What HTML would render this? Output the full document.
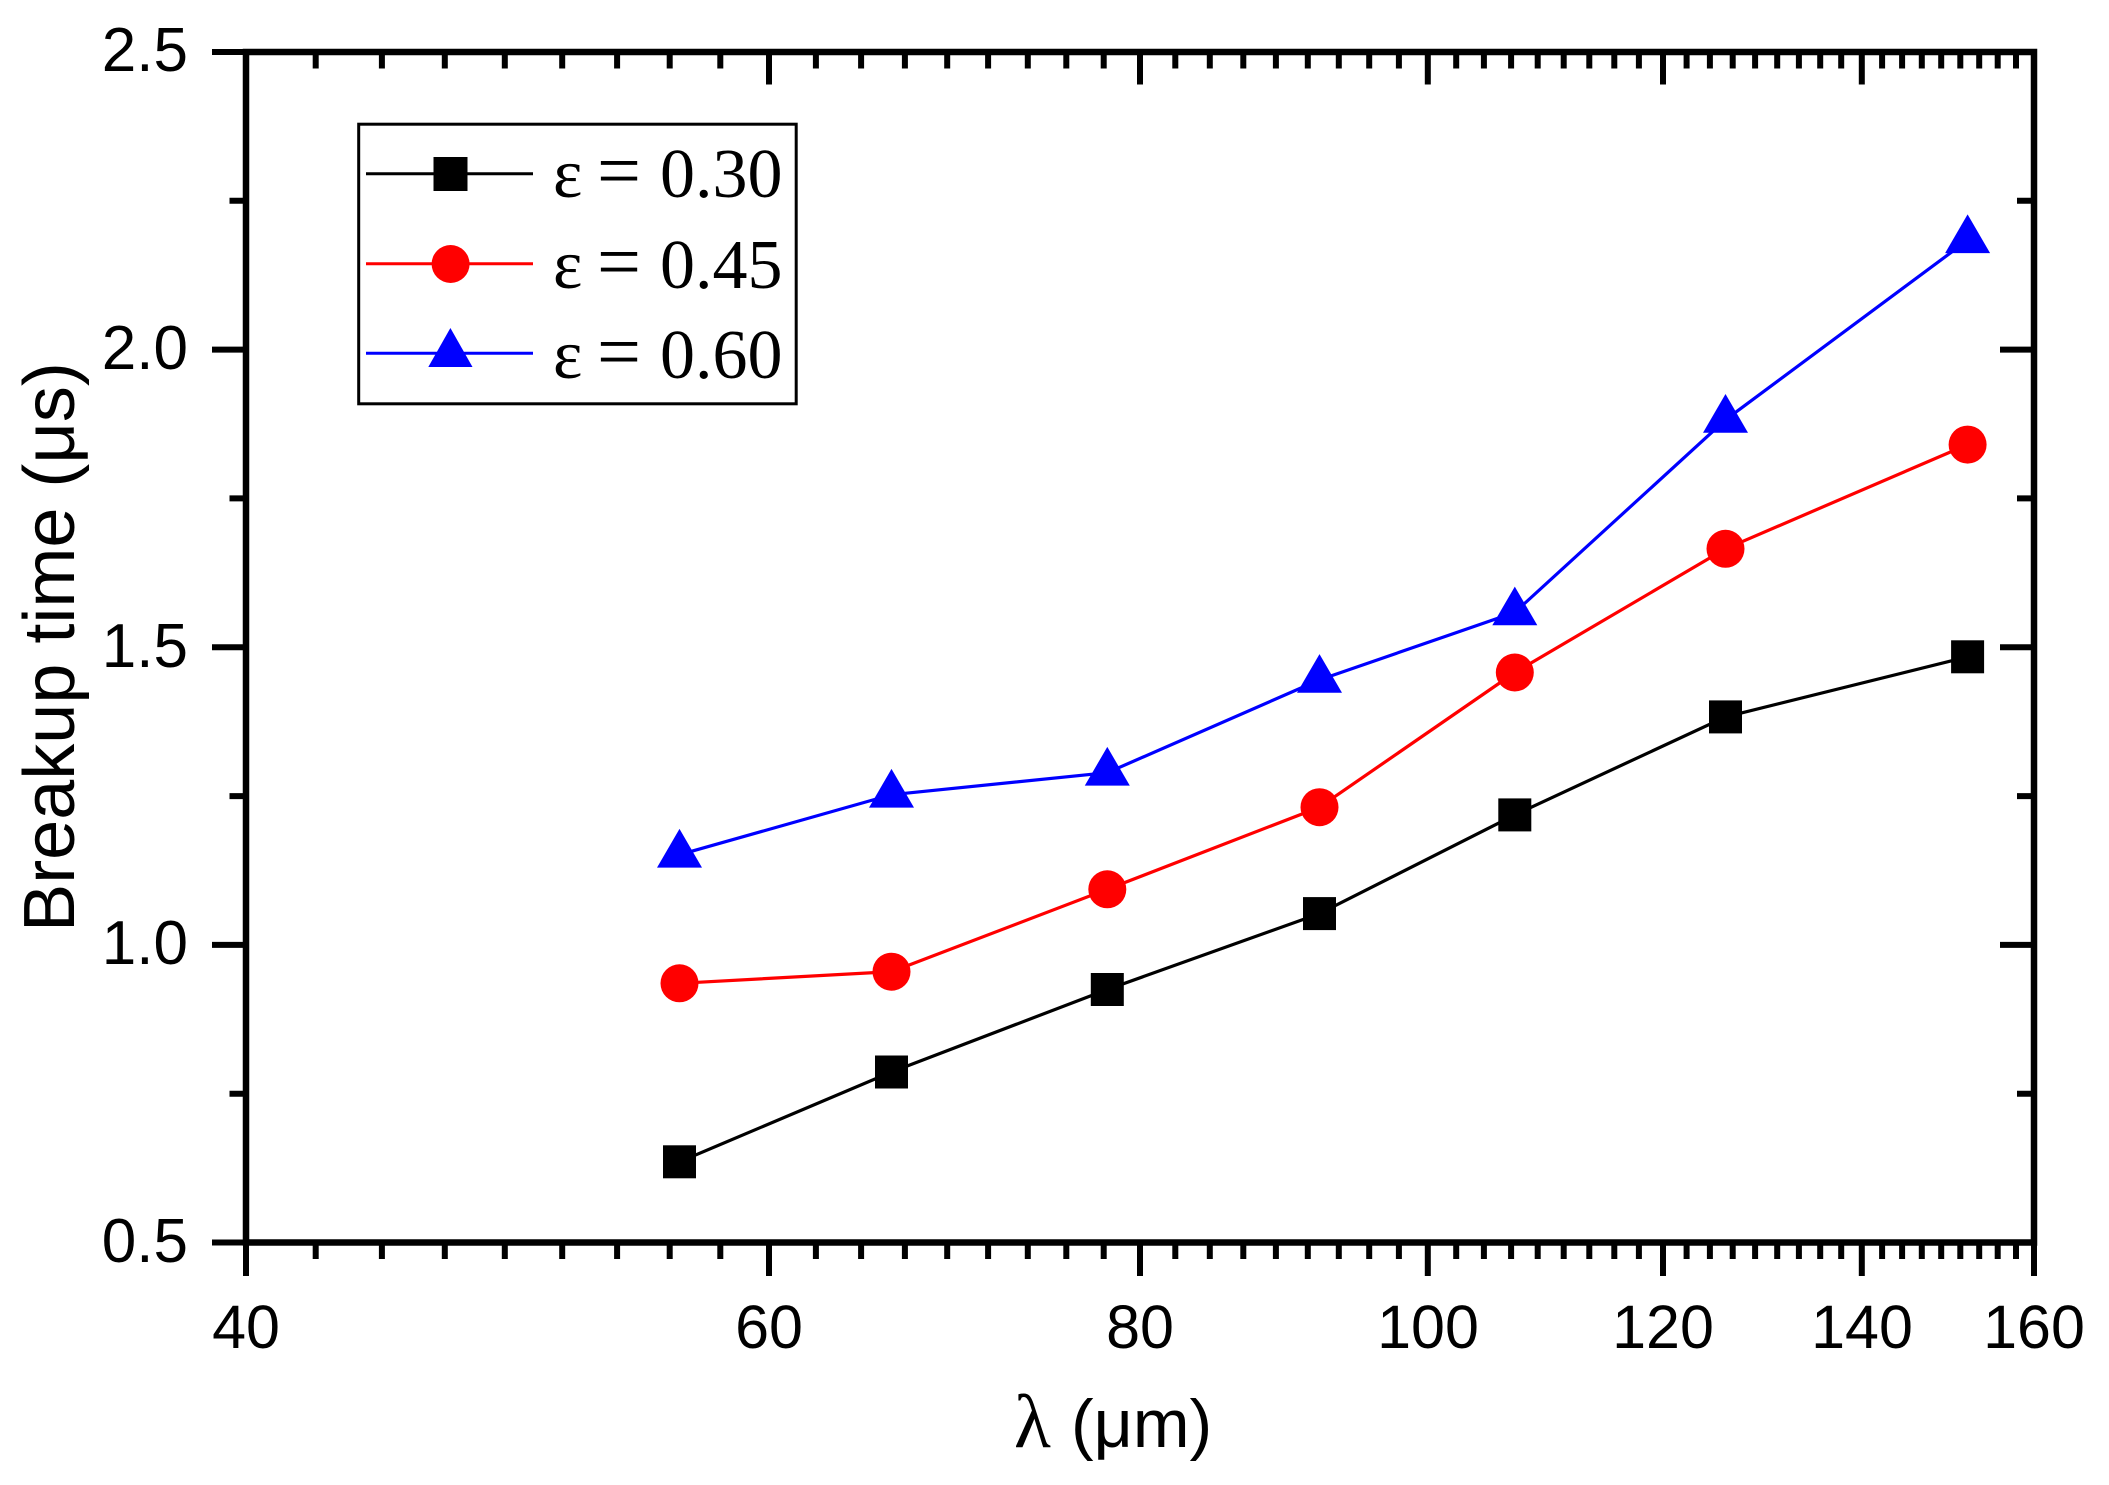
<!DOCTYPE html>
<html>
<head>
<meta charset="utf-8">
<style>
html,body{margin:0;padding:0;background:#fff;}
svg{display:block;}
</style>
</head>
<body>
<svg xmlns="http://www.w3.org/2000/svg" width="2109" height="1485" viewBox="0 0 2109 1485">
<rect x="0" y="0" width="2109" height="1485" fill="#fff"/>

<!-- Frame -->
<rect x="246" y="52" width="1788" height="1190.5" fill="none" stroke="#000" stroke-width="6.5"/>

<!-- Ticks -->
<g stroke="#000" stroke-width="6" fill="none" stroke-linecap="butt">
  <path d="M246 1242.5V1276 M769 1242.5V1276 M1140 1242.5V1276 M1427.8 1242.5V1276 M1663 1242.5V1276 M1861.8 1242.5V1276 M2034 1242.5V1276"/>
  <path d="M315.7 1242.5V1259 M381.9 1242.5V1259 M444.8 1242.5V1259 M504.8 1242.5V1259 M562.2 1242.5V1259 M617.1 1242.5V1259 M669.7 1242.5V1259 M720.3 1242.5V1259
  M815.9 1242.5V1259 M861.1 1242.5V1259 M904.9 1242.5V1259 M947.2 1242.5V1259 M988.1 1242.5V1259 M1027.8 1242.5V1259 M1066.3 1242.5V1259 M1103.7 1242.5V1259
  M1175.3 1242.5V1259 M1209.8 1242.5V1259 M1243.3 1242.5V1259 M1275.9 1242.5V1259 M1307.8 1242.5V1259 M1338.8 1242.5V1259 M1369.2 1242.5V1259 M1398.9 1242.5V1259
  M1456.2 1242.5V1259 M1483.9 1242.5V1259 M1511.1 1242.5V1259 M1537.7 1242.5V1259 M1563.7 1242.5V1259 M1589.3 1242.5V1259 M1614.3 1242.5V1259 M1638.9 1242.5V1259
  M1686.6 1242.5V1259 M1709.9 1242.5V1259 M1732.7 1242.5V1259 M1755.1 1242.5V1259 M1777.2 1242.5V1259 M1798.9 1242.5V1259 M1820.2 1242.5V1259 M1841.2 1242.5V1259
  M1882.1 1242.5V1259 M1902.1 1242.5V1259 M1921.8 1242.5V1259 M1941.2 1242.5V1259 M1960.3 1242.5V1259 M1979.2 1242.5V1259 M1997.7 1242.5V1259 M2016 1242.5V1259"/>
  <path d="M769 52V84.5 M1140 52V84.5 M1427.8 52V84.5 M1663 52V84.5 M1861.8 52V84.5"/>
  <path d="M315.7 52V68.5 M381.9 52V68.5 M444.8 52V68.5 M504.8 52V68.5 M562.2 52V68.5 M617.1 52V68.5 M669.7 52V68.5 M720.3 52V68.5
  M815.9 52V68.5 M861.1 52V68.5 M904.9 52V68.5 M947.2 52V68.5 M988.1 52V68.5 M1027.8 52V68.5 M1066.3 52V68.5 M1103.7 52V68.5
  M1175.3 52V68.5 M1209.8 52V68.5 M1243.3 52V68.5 M1275.9 52V68.5 M1307.8 52V68.5 M1338.8 52V68.5 M1369.2 52V68.5 M1398.9 52V68.5
  M1456.2 52V68.5 M1483.9 52V68.5 M1511.1 52V68.5 M1537.7 52V68.5 M1563.7 52V68.5 M1589.3 52V68.5 M1614.3 52V68.5 M1638.9 52V68.5
  M1686.6 52V68.5 M1709.9 52V68.5 M1732.7 52V68.5 M1755.1 52V68.5 M1777.2 52V68.5 M1798.9 52V68.5 M1820.2 52V68.5 M1841.2 52V68.5
  M1882.1 52V68.5 M1902.1 52V68.5 M1921.8 52V68.5 M1941.2 52V68.5 M1960.3 52V68.5 M1979.2 52V68.5 M1997.7 52V68.5 M2016 52V68.5"/>
  <path d="M212 52H246 M212 349.6H246 M212 647.25H246 M212 944.9H246 M212 1242.5H246"/>
  <path d="M229.5 200.8H246 M229.5 498.4H246 M229.5 796.1H246 M229.5 1093.7H246"/>
  <path d="M2034 349.6H2000 M2034 647.25H2000 M2034 944.9H2000"/>
  <path d="M2034 200.8H2017 M2034 498.4H2017 M2034 796.1H2017 M2034 1093.7H2017"/>
</g>

<!-- Y tick labels -->
<g font-family="'Liberation Sans', Arial, sans-serif" font-size="62" fill="#000" text-anchor="end">
  <text x="188" y="71">2.5</text>
  <text x="188" y="369">2.0</text>
  <text x="188" y="667">1.5</text>
  <text x="188" y="964">1.0</text>
  <text x="188" y="1262">0.5</text>
</g>

<!-- X tick labels -->
<g font-family="'Liberation Sans', Arial, sans-serif" font-size="61" fill="#000" text-anchor="middle">
  <text x="246" y="1348">40</text>
  <text x="769" y="1348">60</text>
  <text x="1140" y="1348">80</text>
  <text x="1428" y="1348">100</text>
  <text x="1663" y="1348">120</text>
  <text x="1862" y="1348">140</text>
  <text x="2034" y="1348">160</text>
</g>

<!-- Axis titles -->
<text transform="translate(74,647) rotate(-90)" text-anchor="middle" font-family="'Liberation Sans', Arial, sans-serif" font-size="72" fill="#000">Breakup time (μs)</text>
<text x="1014" y="1447" font-family="'Liberation Serif', 'Times New Roman', serif" font-size="76" fill="#000">λ</text>
<text x="1071" y="1447" font-family="'Liberation Sans', Arial, sans-serif" font-size="68" fill="#000">(μm)</text>

<!-- Data lines -->
<g fill="none" stroke-width="3.2" stroke-linejoin="round">
  <polyline stroke="#000" points="679.5,1161.8 891.5,1072 1107.3,989.5 1319.5,913.6 1514.8,814.9 1725.5,716.9 1967.6,656.8"/>
  <polyline stroke="#ff0000" points="679.5,983.3 891.5,971.7 1107.3,889.3 1319.5,807.2 1514.8,672.5 1725.5,548.8 1967.6,444.6"/>
  <polyline stroke="#0000ff" points="679.5,854.7 891.5,794.7 1107.3,772.7 1319.5,679.9 1514.8,612.4 1725.5,419.8 1967.6,240.2"/>
</g>

<!-- Black squares -->
<g fill="#000">
  <rect x="663" y="1145.3" width="33" height="33"/>
  <rect x="875" y="1055.5" width="33" height="33"/>
  <rect x="1090.8" y="973" width="33" height="33"/>
  <rect x="1303" y="897.1" width="33" height="33"/>
  <rect x="1498.3" y="798.4" width="33" height="33"/>
  <rect x="1709" y="700.4" width="33" height="33"/>
  <rect x="1951.1" y="640.3" width="33" height="33"/>
</g>

<!-- Red circles -->
<g fill="#ff0000">
  <circle cx="679.5" cy="983.3" r="19"/>
  <circle cx="891.5" cy="971.7" r="19"/>
  <circle cx="1107.3" cy="889.3" r="19"/>
  <circle cx="1319.5" cy="807.2" r="19"/>
  <circle cx="1514.8" cy="672.5" r="19"/>
  <circle cx="1725.5" cy="548.8" r="19"/>
  <circle cx="1967.6" cy="444.6" r="19"/>
</g>

<!-- Blue triangles -->
<g fill="#0000ff">
  <polygon points="679.5,828.9 702,867.6 657,867.6"/>
  <polygon points="891.5,768.9 914,807.6 869,807.6"/>
  <polygon points="1107.3,746.9 1129.8,785.6 1084.8,785.6"/>
  <polygon points="1319.5,654.1 1342,692.8 1297,692.8"/>
  <polygon points="1514.8,586.6 1537.3,625.3 1492.3,625.3"/>
  <polygon points="1725.5,394 1748,432.7 1703,432.7"/>
  <polygon points="1967.6,214.4 1990.1,253.1 1945.1,253.1"/>
</g>

<!-- Legend -->
<rect x="358.7" y="124.2" width="437.5" height="279.6" fill="#fff" stroke="#000" stroke-width="3"/>
<line x1="366" y1="173.7" x2="533" y2="173.7" stroke="#000" stroke-width="3"/>
<rect x="433.5" y="157" width="34" height="34" fill="#000"/>
<line x1="366" y1="263.7" x2="533" y2="263.7" stroke="#ff0000" stroke-width="3"/>
<circle cx="450.6" cy="264" r="19" fill="#ff0000"/>
<line x1="366" y1="353.3" x2="533" y2="353.3" stroke="#0000ff" stroke-width="3"/>
<polygon points="450.4,328 472.5,367 428.3,367" fill="#0000ff"/>
<g font-family="'Liberation Serif', 'Times New Roman', serif" font-size="70" fill="#000">
  <text x="553" y="197">ε</text>
  <text x="553" y="288">ε</text>
  <text x="553" y="378">ε</text>
  <text x="660" y="197">0.30</text>
  <text x="660" y="288">0.45</text>
  <text x="660" y="378">0.60</text>
</g>
<g font-family="'Liberation Serif', 'Times New Roman', serif" font-size="78" fill="#000">
  <text x="597" y="197">=</text>
  <text x="597" y="288">=</text>
  <text x="597" y="378">=</text>
</g>
</svg>
</body>
</html>
